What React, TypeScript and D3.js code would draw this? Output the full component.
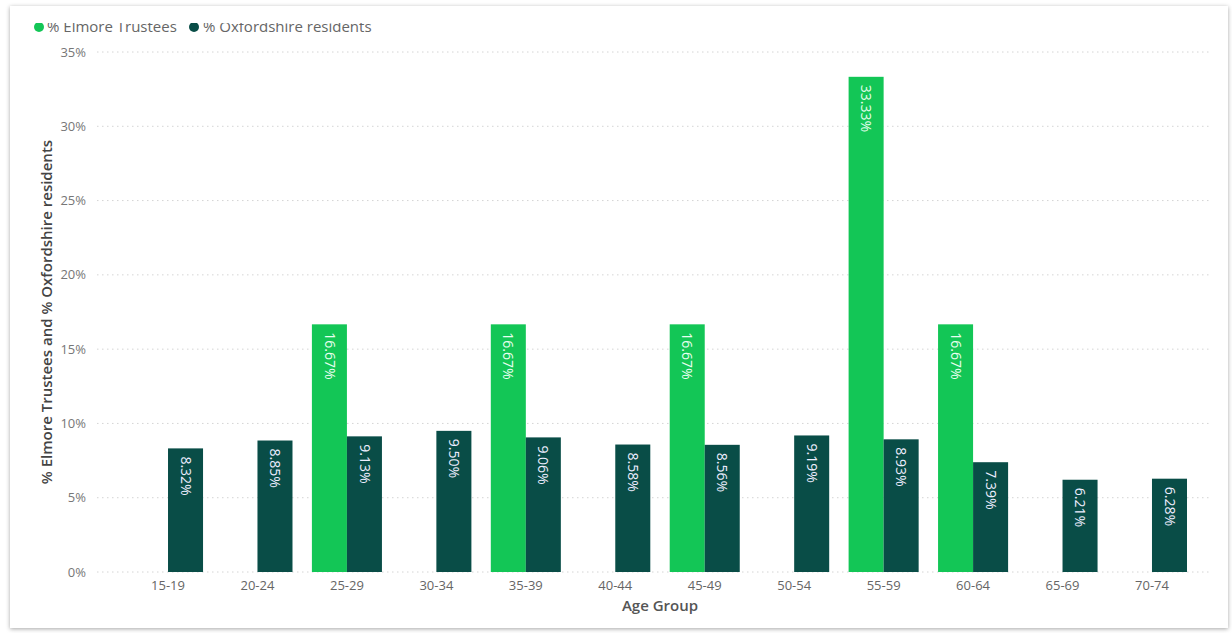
import React from "react";
import * as d3 from "d3";

const categories = ["15-19","20-24","25-29","30-34","35-39","40-44","45-49","50-54","55-59","60-64","65-69","70-74"];
const elmore: (number | null)[] = [null, null, 16.67, null, 16.67, null, 16.67, null, 33.33, 16.67, null, null];
const oxford: number[] = [8.32, 8.85, 9.13, 9.50, 9.06, 8.58, 8.56, 9.19, 8.93, 7.39, 6.21, 6.28];
const yTicks = [0, 5, 10, 15, 20, 25, 30, 35];
const seriesNames = ["% Elmore Trustees", "% Oxfordshire residents"];
const colors = ["#13C656", "#094D47"];

export default function App() {
  const W = 1232, H = 633;
  const top = 52, bottom = 572;
  const y = d3.scaleLinear().domain([0, 35]).range([bottom, top]);
  const x0 = d3.scaleBand().domain(categories).range([133, 1187]).paddingInner(0.217).paddingOuter(0);
  const x1 = d3.scaleBand().domain(["e", "o"]).range([0, x0.bandwidth()]);
  const font = "'Segoe UI', 'Open Sans', 'DejaVu Sans', sans-serif";
  const fmt = (v: number) => v.toFixed(2) + "%";
  return (
    <svg width={W} height={H} style={{ position: "fixed", left: 0, top: 0, background: "#fff" }} fontFamily={font}>
      <defs>
        <clipPath id="legclip"><rect x={0} y={23} width={W} height={40} /></clipPath>
        <filter id="sh" x="-5%" y="-5%" width="110%" height="110%">
          <feDropShadow dx="0" dy="1" stdDeviation="2" floodColor="#000" floodOpacity="0.35" />
        </filter>
      </defs>
      <rect x={0} y={0} width={W} height={H} fill="#fff" />
      <rect x={10} y={6} width={1218} height={622} fill="#fff" filter="url(#sh)" />
      {yTicks.map(t => (
        <line key={t} x1={97} x2={1210} y1={y(t)} y2={y(t)} stroke="#d4d4d4" strokeWidth={1} strokeDasharray="1.5,3.5" />
      ))}
      {yTicks.map(t => (
        <text key={"l" + t} x={86} y={y(t)} dy="0.35em" textAnchor="end" fontSize={13} fill="#777">{t}%</text>
      ))}
      {categories.map((c, i) => {
        const gx = x0(c)!;
        const e = elmore[i];
        const o = oxford[i];
        const ex = gx + x1("e")!;
        const ox = gx + x1("o")!;
        const bw = x1.bandwidth();
        return (
          <g key={c}>
            {e !== null && (
              <g>
                <rect x={ex} y={y(e)} width={bw} height={y(0) - y(e)} fill={colors[0]} />
                <text transform={`translate(${ex + bw / 2},${y(e) + 8}) rotate(90)`} dy="0.35em" fontSize={14} fill="#e8fff0">{fmt(e)}</text>
              </g>
            )}
            <rect x={ox} y={y(o)} width={bw} height={y(0) - y(o)} fill={colors[1]} />
            <text transform={`translate(${ox + bw / 2},${y(o) + 8}) rotate(90)`} dy="0.35em" fontSize={14} fill="#eef">{fmt(o)}</text>
            <text x={gx + x0.bandwidth() / 2} y={590} textAnchor="middle" fontSize={13} fill="#666">{c}</text>
          </g>
        );
      })}
      <text x={660} y={611} textAnchor="middle" fontSize={15} fill="#555" fontWeight={600}>Age Group</text>
      <text transform={`translate(52,${(top + bottom) / 2}) rotate(-90)`} textAnchor="middle" fontSize={15} fill="#444" fontWeight={600}>% Elmore Trustees and % Oxfordshire residents</text>
      <g clipPath="url(#legclip)">
        <circle cx={39} cy={27} r={5} fill={colors[0]} />
        <text x={47} y={32} fontSize={15} fill="#666">{seriesNames[0]}</text>
        <circle cx={194} cy={27} r={5} fill={colors[1]} />
        <text x={203} y={32} fontSize={15} fill="#666">{seriesNames[1]}</text>
      </g>
    </svg>
  );
}
